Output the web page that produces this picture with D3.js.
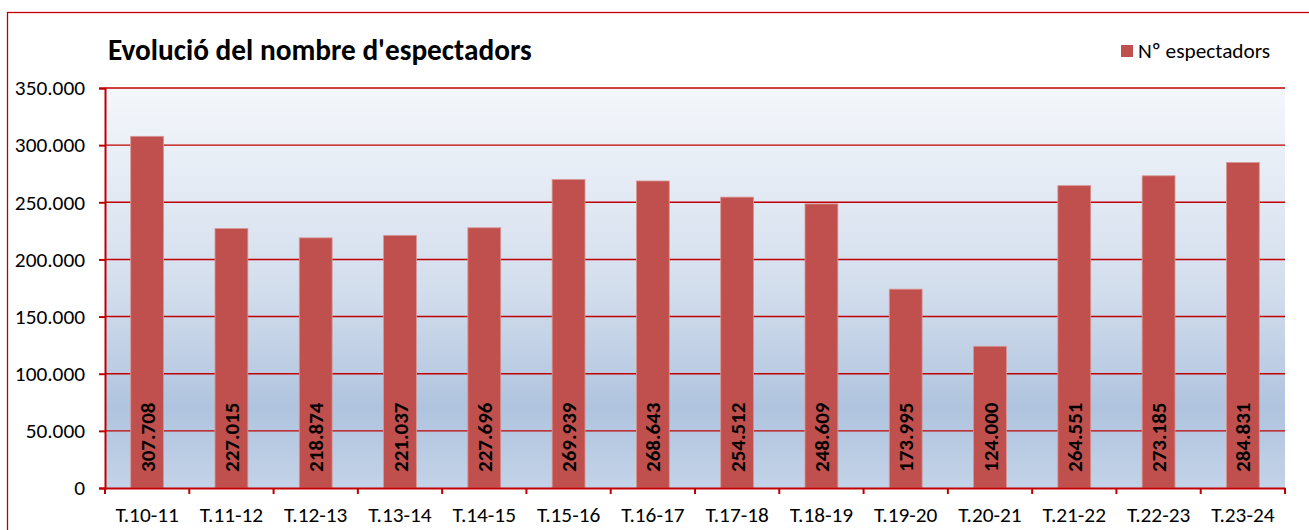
<!DOCTYPE html>
<html>
<head>
<meta charset="utf-8">
<script src="https://cdn.jsdelivr.net/npm/d3@7"></script>
<style>
  body { margin: 0; background: #fff; }
  svg { font-family: Carlito, Lato, "Liberation Sans", sans-serif; }
</style>
</head>
<body>
<div id="chart"></div>
<script>
const categories = ['T.10-11', 'T.11-12', 'T.12-13', 'T.13-14', 'T.14-15', 'T.15-16', 'T.16-17',
  'T.17-18', 'T.18-19', 'T.19-20', 'T.20-21', 'T.21-22', 'T.22-23', 'T.23-24'];
const espectadors = [307708, 227015, 218874, 221037, 227696, 269939, 268643,
  254512, 248609, 173995, 124000, 264551, 273185, 284831];
const yTicks = [0, 50000, 100000, 150000, 200000, 250000, 300000, 350000];

const width = 1309;
const height = 530;
const margin = {top: 88, right: 24, bottom: 42, left: 105};

const fmt = v => d3.format(',')(v).replace(/,/g, '.');

const svg = d3.select('#chart')
    .append('svg')
    .attr('width', width)
    .attr('height', height);

// outer chart frame
svg.append('rect')
    .attr('x', 7.5).attr('y', 12.5)
    .attr('width', width + 10).attr('height', height + 10)
    .attr('fill', 'none')
    .attr('stroke', '#C00000')
    .attr('stroke-width', 1.3);

const defs = svg.append('defs');
const grad = defs.append('linearGradient')
    .attr('id', 'bg').attr('x1', 0).attr('y1', 0).attr('x2', 0).attr('y2', 1);
grad.append('stop').attr('offset', '0%').attr('stop-color', '#F4F7FB');
grad.append('stop').attr('offset', '50%').attr('stop-color', '#D3DEED');
grad.append('stop').attr('offset', '80%').attr('stop-color', '#B0C4DF');
grad.append('stop').attr('offset', '100%').attr('stop-color', '#C3D3E8');

const x = d3.scaleBand()
    .domain(categories)
    .range([margin.left, width - margin.right])
    .paddingInner(0.61)
    .paddingOuter(0.305);

const y = d3.scaleLinear()
    .domain([0, 350000])
    .range([height - margin.bottom, margin.top]);

svg.append('rect')
    .attr('x', margin.left).attr('y', margin.top)
    .attr('width', width - margin.right - margin.left)
    .attr('height', height - margin.bottom - margin.top)
    .attr('fill', 'url(#bg)');

// gridlines
svg.append('g')
    .selectAll('line')
    .data(yTicks.slice(1))
    .enter()
    .append('line')
    .attr('x1', margin.left).attr('x2', width - margin.right)
    .attr('y1', d => y(d)).attr('y2', d => y(d))
    .attr('stroke', '#C00000')
    .attr('stroke-width', 1.4);

// bars
svg.append('g')
    .selectAll('rect')
    .data(espectadors)
    .enter()
    .append('rect')
    .attr('x', (d, i) => x(categories[i]))
    .attr('y', d => y(d))
    .attr('width', x.bandwidth())
    .attr('height', d => y(0) - y(d))
    .attr('fill', '#C0504D')
    .attr('stroke', '#D99795')
    .attr('stroke-width', 0.8);

// value labels, rotated
svg.append('g')
    .selectAll('text')
    .data(espectadors)
    .enter()
    .append('text')
    .text(d => fmt(d))
    .attr('transform', (d, i) => `translate(${x(categories[i]) + x.bandwidth() / 2 + 7.5},${y(0) - 16}) rotate(-90)`)
    .attr('text-anchor', 'start')
    .style('font-size', '21px')
    .style('font-weight', 'bold')
    .style('fill', '#000');

// y axis
const yAxis = svg.append('g')
    .attr('transform', `translate(${margin.left},0)`)
    .call(d3.axisLeft(y).tickValues(yTicks).tickFormat(d => d === 0 ? '0' : fmt(d)).tickSize(6).tickPadding(14));
yAxis.select('.domain').attr('stroke', '#C00000').attr('stroke-width', 2);
yAxis.selectAll('.tick line').attr('stroke', '#C00000').attr('stroke-width', 2);
yAxis.selectAll('.tick text')
    .style('font-size', '21.3px')
    .style('font-family', 'Carlito, Lato, sans-serif')
    .attr('fill', '#000');

// x axis
const xAxis = svg.append('g')
    .attr('transform', `translate(0,${y(0)})`)
    .call(d3.axisBottom(x).tickSize(0).tickPadding(19));
xAxis.select('.domain').attr('stroke', '#C00000').attr('stroke-width', 2);
xAxis.selectAll('.tick text')
    .style('font-size', '21.3px')
    .style('font-family', 'Carlito, Lato, sans-serif')
    .attr('fill', '#000');

// category boundary ticks
const step = x.step();
svg.append('g')
    .selectAll('line')
    .data(d3.range(categories.length + 1))
    .enter()
    .append('line')
    .attr('x1', i => margin.left + i * step)
    .attr('x2', i => margin.left + i * step)
    .attr('y1', y(0)).attr('y2', y(0) + 6)
    .attr('stroke', '#C00000')
    .attr('stroke-width', 2);

// title
svg.append('text')
    .attr('x', 108).attr('y', 60)
    .text("Evolució del nombre d'espectadors")
    .style('font-size', '29.3px')
    .style('font-weight', 'bold');

// legend
svg.append('rect')
    .attr('x', 1121).attr('y', 45)
    .attr('width', 12).attr('height', 12)
    .attr('fill', '#C0504D');
svg.append('text')
    .attr('x', 1138).attr('y', 58)
    .text('Nº espectadors')
    .style('font-size', '21.3px');
</script>
</body>
</html>
